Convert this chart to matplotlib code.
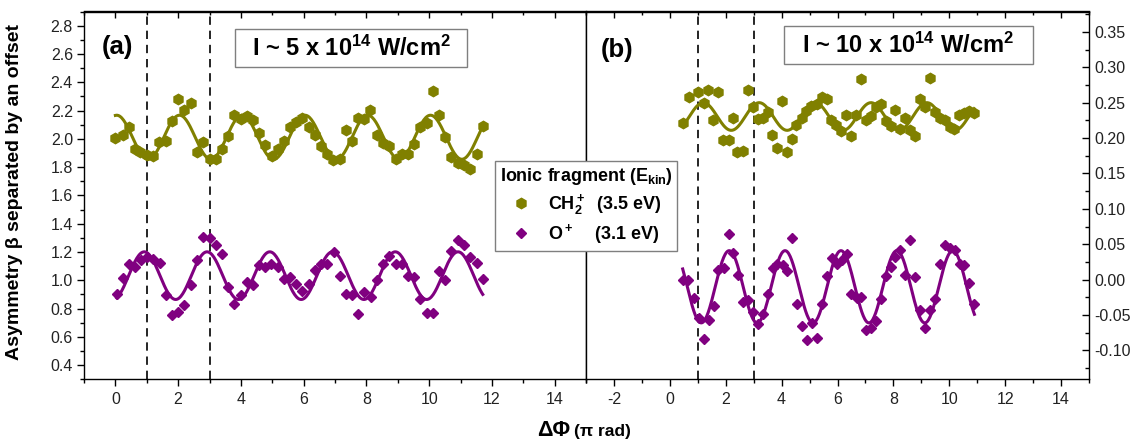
import matplotlib
matplotlib.use('Agg')
import matplotlib.pyplot as plt
from matplotlib.lines import Line2D
from matplotlib.patches import Rectangle
from matplotlib.ticker import MultipleLocator, FormatStrFormatter
import numpy as np

plt.rcParams['font.family'] = ['Liberation Sans', 'DejaVu Sans']
plt.rcParams['mathtext.fontset'] = 'custom'
plt.rcParams['mathtext.rm'] = 'Liberation Sans:bold'
plt.rcParams['mathtext.default'] = 'rm'
plt.rcParams['axes.unicode_minus'] = False

olive = '#808000'
purple = '#800080'

# (a) I ~ 5e14 W/cm2, left axis
phi_a_ch2 = [0.0, 0.24, 0.44, 0.61, 0.80, 1.01, 1.2, 1.40, 1.60, 1.80, 2.01, 2.20, 2.40, 2.60, 2.79,
             3.0, 3.2, 3.39, 3.59, 3.78, 3.99, 4.18, 4.38, 4.58, 4.78, 4.98, 5.17, 5.37, 5.57, 5.76,
             5.96, 6.16, 6.36, 6.56, 6.76, 6.95, 7.15, 7.35, 7.54, 7.74, 7.94, 8.13, 8.33, 8.53, 8.73,
             8.93, 9.13, 9.32, 9.52, 9.72, 9.92, 10.12, 10.32, 10.52, 10.71, 10.91, 11.11, 11.30, 11.51, 11.71]
beta_a_ch2 = [2.007, 2.03, 2.08, 1.925, 1.91, 1.887, 1.875, 1.98, 1.985, 2.125, 2.28, 2.205, 2.25, 1.905, 1.977,
              1.86, 1.857, 1.927, 2.02, 2.165, 2.14, 2.16, 2.135, 2.04, 1.958, 1.882, 1.925, 1.988, 2.08, 2.117,
              2.148, 2.08, 2.026, 1.948, 1.894, 1.852, 1.857, 2.064, 1.988, 2.148, 2.14, 2.205, 2.024, 1.972, 1.946,
              1.857, 1.89, 1.89, 1.96, 2.087, 2.113, 2.336, 2.165, 2.012, 1.87, 1.828, 1.816, 1.788, 1.89, 2.09]
phi_a_o = [0.04, 0.24, 0.42, 0.62, 0.83, 1.01, 1.21, 1.41, 1.61, 1.80, 2.0, 2.2, 2.40, 2.60, 2.79,
           3.0, 3.2, 3.39, 3.59, 3.79, 3.99, 4.18, 4.38, 4.58, 4.77, 4.97, 5.17, 5.37, 5.57, 5.76,
           5.96, 6.16, 6.36, 6.56, 6.76, 6.96, 7.15, 7.35, 7.54, 7.74, 7.94, 8.14, 8.34, 8.53, 8.73,
           8.93, 9.13, 9.32, 9.52, 9.72, 9.92, 10.12, 10.32, 10.52, 10.71, 10.91, 11.11, 11.30, 11.51, 11.71]
beta_a_o = [0.901, 1.019, 1.118, 1.094, 1.146, 1.165, 1.153, 1.122, 0.894, 0.753, 0.776, 0.828, 0.965, 1.146, 1.306,
            1.301, 1.247, 1.188, 0.953, 0.831, 0.894, 0.988, 0.969, 1.106, 1.094, 1.118, 1.094, 1.012, 1.024, 0.976,
            0.925, 0.976, 1.075, 1.118, 1.118, 1.2, 1.028, 0.906, 0.894, 0.765, 0.918, 0.882, 1.005, 1.118, 1.169,
            1.118, 1.118, 1.028, 1.024, 0.871, 0.769, 0.769, 1.066, 1.0, 1.207, 1.287, 1.252, 1.165, 1.122, 1.012]

# (b) I ~ 10e14 W/cm2, right axis
phi_b_ch2 = [0.48, 0.67, 1.02, 1.21, 1.38, 1.55, 1.73, 1.91, 2.10, 2.25, 2.42, 2.61, 2.79, 2.98, 3.16,
             3.32, 3.50, 3.67, 3.85, 4.01, 4.19, 4.36, 4.53, 4.72, 4.89, 5.06, 5.25, 5.43, 5.61, 5.78,
             5.96, 6.13, 6.30, 6.49, 6.67, 6.85, 7.02, 7.21, 7.38, 7.55, 7.73, 7.90, 8.07, 8.24, 8.43,
             8.61, 8.78, 8.96, 9.14, 9.31, 9.49, 9.66, 9.83, 10.01, 10.18, 10.35, 10.54, 10.72, 10.89]
beta_b_ch2 = [0.222, 0.258, 0.265, 0.250, 0.268, 0.225, 0.265, 0.198, 0.197, 0.229, 0.180, 0.182, 0.268, 0.244, 0.227,
              0.228, 0.237, 0.204, 0.186, 0.253, 0.180, 0.199, 0.218, 0.229, 0.239, 0.245, 0.248, 0.258, 0.255, 0.225,
              0.218, 0.210, 0.232, 0.203, 0.232, 0.283, 0.225, 0.231, 0.244, 0.248, 0.224, 0.217, 0.240, 0.213, 0.228,
              0.211, 0.203, 0.255, 0.244, 0.285, 0.237, 0.228, 0.225, 0.216, 0.213, 0.232, 0.235, 0.239, 0.235]
phi_b_o = [0.46, 0.66, 0.85, 1.05, 1.22, 1.39, 1.57, 1.73, 1.93, 2.10, 2.27, 2.45, 2.62, 2.79, 2.99,
           3.16, 3.33, 3.50, 3.68, 3.85, 4.04, 4.21, 4.38, 4.55, 4.73, 4.91, 5.10, 5.27, 5.44, 5.62,
           5.81, 5.99, 6.16, 6.33, 6.50, 6.68, 6.85, 7.02, 7.21, 7.38, 7.55, 7.73, 7.90, 8.07, 8.24,
           8.43, 8.61, 8.78, 8.96, 9.14, 9.31, 9.49, 9.66, 9.83, 10.01, 10.20, 10.37, 10.54, 10.72, 10.90]
beta_b_o = [-0.001, -0.001, -0.026, -0.054, -0.084, -0.057, -0.037, 0.014, 0.016, 0.064, 0.037, 0.006, -0.032, -0.029, -0.046,
            -0.063, -0.048, -0.020, 0.017, 0.022, 0.021, 0.012, 0.059, -0.035, -0.065, -0.086, -0.061, -0.083, -0.035, 0.005,
            0.031, 0.022, 0.028, 0.036, -0.021, -0.026, -0.024, -0.072, -0.069, -0.059, -0.028, 0.005, 0.018, 0.032, 0.042,
            0.007, 0.056, 0.003, -0.043, -0.069, -0.043, -0.027, 0.022, 0.049, 0.045, 0.042, 0.022, 0.020, -0.005, -0.034]

guide_phi = [1, 3]


def cos_fit(x, y):
    # least squares fit of y = a + b cos(pi x) + c sin(pi x)
    x = np.asarray(x)
    y = np.asarray(y)
    M = np.column_stack([np.ones_like(x), np.cos(np.pi * x), np.sin(np.pi * x)])
    a, b, c = np.linalg.lstsq(M, y, rcond=None)[0]
    xs = np.linspace(x.min(), x.max(), 400)
    return xs, a + b * np.cos(np.pi * xs) + c * np.sin(np.pi * xs)


W, H = 1135, 441
fig = plt.figure(figsize=(W / 100, H / 100), dpi=100)
bot = 1 - 379.3 / H
hgt = (379.3 - 11.5) / H
axL = fig.add_axes([84 / W, bot, (586 - 84) / W, hgt])
axR = fig.add_axes([586 / W, bot, (1089 - 586) / W, hgt])

for ax, (xc, yc, xo, yo) in [(axL, (phi_a_ch2, beta_a_ch2, phi_a_o, beta_a_o)),
                             (axR, (phi_b_ch2, beta_b_ch2, phi_b_o, beta_b_o))]:
    for gx in guide_phi:
        ax.axvline(gx, color='black', lw=1.2, ls=(0, (5, 3.5)), zorder=1)
    fx, fy = cos_fit(xc, yc)
    ax.plot(fx, fy, color=olive, lw=2.2, zorder=2)
    fx, fy = cos_fit(xo, yo)
    ax.plot(fx, fy, color=purple, lw=2.2, zorder=2)
    ax.plot(xc, yc, ls='none', marker='h', ms=7.5, color=olive, zorder=3)
    ax.plot(xo, yo, ls='none', marker='D', ms=5.5, color=purple, zorder=3)
    for s in ax.spines.values():
        s.set_linewidth(1.0)
    ax.xaxis.set_major_locator(MultipleLocator(2))
    ax.xaxis.set_minor_locator(MultipleLocator(1))
    ax.tick_params(axis='x', which='both', direction='out', bottom=True, top=False,
                   labelsize=11.5, labelcolor='#222222', pad=4)
    ax.tick_params(which='major', length=5, width=1)
    ax.tick_params(which='minor', length=3, width=1)
    top = ax.secondary_xaxis('top')
    top.xaxis.set_major_locator(MultipleLocator(2))
    top.xaxis.set_minor_locator(MultipleLocator(1))
    top.tick_params(which='both', direction='in', labeltop=False, width=1)
    top.tick_params(which='major', length=5)
    top.tick_params(which='minor', length=3)
    top.spines['top'].set_linewidth(1.0)

axL.set_xlim(-1, 15)
axL.set_ylim(0.3, 2.9)
axL.yaxis.set_major_locator(MultipleLocator(0.2))
axL.yaxis.set_minor_locator(MultipleLocator(0.1))
axL.yaxis.set_major_formatter(FormatStrFormatter('%.1f'))
axL.tick_params(axis='y', which='both', direction='out', left=True, right=False,
                labelsize=11.5, labelcolor='#222222', pad=3)
axL.set_ylabel('Asymmetry β separated by an offset', fontsize=14, weight='bold')
axL.yaxis.set_label_coords(-0.122, 0.51)

axR.set_xlim(-3, 15)
axR.set_ylim(-0.141, 0.379)
axR.yaxis.set_major_locator(MultipleLocator(0.05))
axR.yaxis.set_minor_locator(MultipleLocator(0.025))
axR.yaxis.set_major_formatter(FormatStrFormatter('%.2f'))
axR.yaxis.tick_right()
axR.tick_params(axis='y', which='both', direction='in', left=False, right=True,
                labelleft=False, labelright=True, labelsize=11.5, labelcolor='#222222', pad=4)

fig.text(117 / W, 1 - 47 / H, '(a)', ha='center', va='center', fontsize=18.5, weight='bold')
fig.text(617 / W, 1 - 50 / H, '(b)', ha='center', va='center', fontsize=18.5, weight='bold')

boxes = [((235, 29, 467, 67), r'I ~ 5 x 10$^{14}$ W/cm$^{2}$'),
         ((784, 26, 1033, 64), r'I ~ 10 x 10$^{14}$ W/cm$^{2}$')]
for (x0, y0, x1, y1), label in boxes:
    fig.add_artist(Rectangle((x0 / W, 1 - y1 / H), (x1 - x0) / W, (y1 - y0) / H,
                             transform=fig.transFigure, fill=False, ec='#7f7f7f', lw=1.0))
    fig.text((x0 + x1) / 2 / W, 1 - (y0 + y1) / 2 / H, label, ha='center', va='center',
             fontsize=17, weight='bold')

fig.text(570 / W, 1 - 436 / H, 'ΔΦ', ha='right', va='baseline', fontsize=15.5, weight='bold')
fig.text(574 / W, 1 - 436 / H, '(π rad)', ha='left', va='baseline', fontsize=12.5, weight='bold')

handles = [Line2D([], [], ls='none', marker='h', ms=7.5, color=olive),
           Line2D([], [], ls='none', marker='D', ms=5.5, color=purple)]
labels = [r'CH$_2^+$  (3.5 eV)', r'O$^+$    (3.1 eV)']
leg = fig.legend(handles, labels, loc='upper left', bbox_to_anchor=(495 / W, 1 - 161 / H),
                 frameon=True, fancybox=False, framealpha=1, edgecolor='#7f7f7f',
                 title=r'Ionic fragment (E$_{kin}$)',
                 title_fontproperties={'weight': 'bold', 'size': 13},
                 prop={'weight': 'bold', 'size': 13}, borderpad=0.25, labelspacing=0.3,
                 handletextpad=0.9, handlelength=1.2, borderaxespad=0)
leg.get_frame().set_linewidth(1.0)

fig.savefig('out.png', dpi=100)
